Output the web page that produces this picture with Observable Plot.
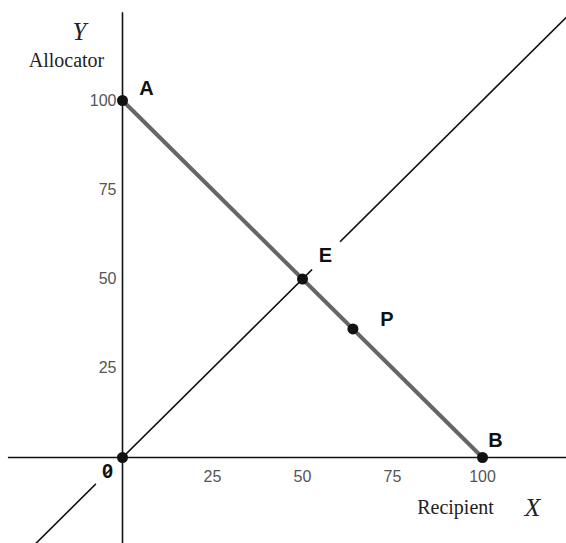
<!DOCTYPE html>
<html>
<head>
<meta charset="utf-8">
<script src="https://cdn.jsdelivr.net/npm/d3@7"></script>
<script src="https://cdn.jsdelivr.net/npm/@observablehq/plot@0.6"></script>
<style>
  html, body { margin: 0; padding: 0; background: #fff; }
  #chart svg { display: block; }
</style>
</head>
<body>
<div id="chart"></div>
<script>
// Data
const xTicks = [25, 50, 75, 100];
const yTicks = [25, 50, 75, 100];
const budgetLine = [{x: 0, y: 100}, {x: 100, y: 0}];          // A to B
const equalLine = [{x: -25, y: -25}, {x: 125, y: 125}];         // 45-degree line
const pointNames = ["A", "E", "P", "B", "0"];
const pointX = [0, 50, 64, 100, 0];
const pointY = [100, 50, 36, 0, 0];
const points = pointNames.map((n, i) => ({name: n, x: pointX[i], y: pointY[i]}));

const sans = "Liberation Sans, Arial, sans-serif";
const serif = "Liberation Serif, Times New Roman, serif";

const labelOffsets = {A: [24, -12], E: [23, -23], P: [34, -9], B: [13, -17], "0": [-15, 14]};

const chart = Plot.plot({
  width: 566,
  height: 543,
  margin: 0,
  x: {domain: [-33.89, 123.33], axis: null},
  y: {domain: [-24.09, 128.01], axis: null},
  style: {background: "#fff"},
  marks: [
    // 45-degree line
    Plot.line(equalLine, {x: "x", y: "y", stroke: "#111", strokeWidth: 1.6}),
    // labels with white halo (mask the 45-degree line)
    ...points.map(p => Plot.text([p], {
      x: "x", y: "y", text: "name",
      dx: labelOffsets[p.name][0], dy: labelOffsets[p.name][1],
      fontFamily: sans, fontWeight: "bold", fontSize: 20, fill: "#111",
      stroke: (p.name === "E" || p.name === "0") ? "white" : "none",
      strokeWidth: 22
    })),
    // axes
    Plot.ruleY([0], {x1: -31.7, x2: 124, stroke: "#111", strokeWidth: 1.6}),
    Plot.ruleX([0], {y1: -25, y2: 124.6, stroke: "#111", strokeWidth: 1.6}),
    // budget line A-B
    Plot.line(budgetLine, {x: "x", y: "y", stroke: "#666", strokeWidth: 4}),
    // dots
    Plot.dot(points, {x: "x", y: "y", r: 5.5, fill: "#111", stroke: "none"}),
    // tick labels
    Plot.text(xTicks, {x: d => d, y: 0, text: d => String(d), dy: 19, fontFamily: sans, fontSize: 16, fill: "#555"}),
    Plot.text(yTicks, {x: 0, y: d => d, text: d => String(d), dx: -6, textAnchor: "end", fontFamily: sans, fontSize: 16, fill: "#555"}),
    // axis titles
    Plot.text(["Y"], {frameAnchor: "top-left", textAnchor: "middle", lineAnchor: "middle", dx: 79, dy: 31, fontFamily: serif, fontStyle: "italic", fontSize: 25, fill: "#222"}),
    Plot.text(["Allocator"], {frameAnchor: "top-left", textAnchor: "middle", lineAnchor: "middle", dx: 66, dy: 60, fontFamily: serif, fontSize: 20, fill: "#222"}),
    Plot.text(["Recipient"], {frameAnchor: "top-left", textAnchor: "middle", lineAnchor: "middle", dx: 455, dy: 507, fontFamily: serif, fontSize: 20, fill: "#222"}),
    Plot.text(["X"], {frameAnchor: "top-left", textAnchor: "middle", lineAnchor: "middle", dx: 532, dy: 507, fontFamily: serif, fontStyle: "italic", fontSize: 26, fill: "#222"})
  ]
});
document.getElementById("chart").appendChild(chart);
</script>
</body>
</html>
